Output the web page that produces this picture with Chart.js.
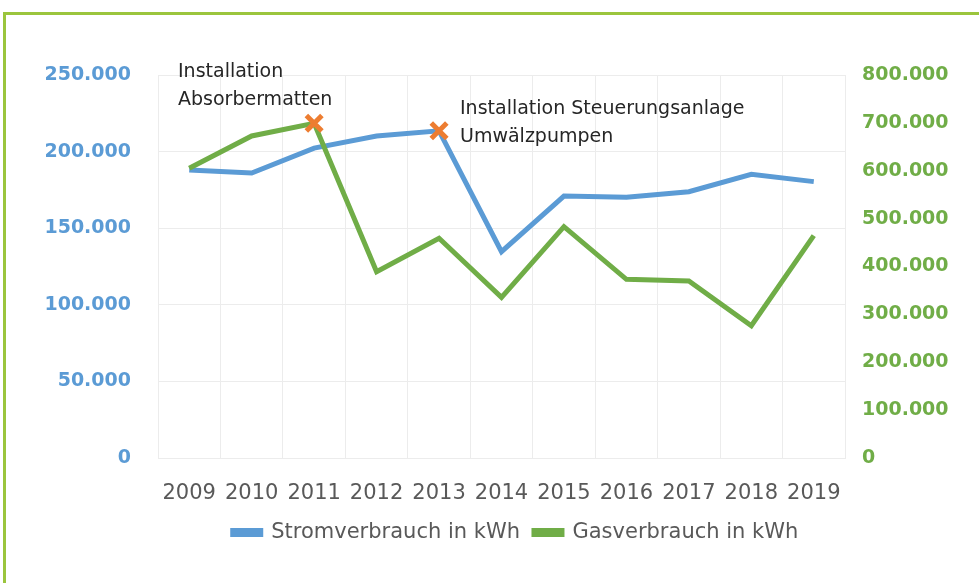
<!DOCTYPE html>
<html lang="de">
<head>
<meta charset="utf-8">
<title>Strom- und Gasverbrauch</title>
<script src="https://cdn.jsdelivr.net/npm/chart.js@4/dist/chart.umd.min.js"></script>
<style>
  html, body { margin: 0; padding: 0; background: #fff; }
  #rahmen {
    position: absolute; left: 3px; top: 12px; right: 0; bottom: 0;
    border-top: 3px solid #9bc53d; border-left: 3px solid #9bc53d;
  }
  #wrap { position: absolute; left: 0; top: 0; width: 979px; height: 583px; }
</style>
</head>
<body>
<div id="rahmen"></div>
<div id="wrap"><canvas id="verbrauchChart" width="979" height="583"></canvas></div>
<script>
// DATEN
const jahre = ["2009", "2010", "2011", "2012", "2013", "2014", "2015", "2016", "2017", "2018", "2019"];
const stromVerbrauch = [188000, 186000, 202300, 210200, 213600, 134700, 171000, 170200, 173800, 185200, 180400];
const gasVerbrauch = [605100, 672600, 699100, 389200, 458900, 335600, 483200, 373200, 369700, 276300, 464400];
const stromTicks = [0, 50000, 100000, 150000, 200000, 250000];
const gasTicks = [0, 100000, 200000, 300000, 400000, 500000, 600000, 700000, 800000];
// Markierungen (Installationen)
const markeGasJahr = "2011";
const markeStromJahr = "2013";
const anmerkungen = [
  { zeilen: ["Installation", "Absorbermatten"], x: 178, y: 72 },
  { zeilen: ["Installation Steuerungsanlage", "Umwälzpumpen"], x: 460, y: 109 },
];

const BLAU = "#5b9bd5";
const GRUEN = "#70ad47";
const ORANGE = "#ed7d31";
const GRAU = "#595959";
const FONT = "'DejaVu Sans', sans-serif";

function formatDE(v) {
  return String(v).replace(/\B(?=(\d{3})+(?!\d))/g, ".");
}

const markeGas = jahre.map((j, i) => (j === markeGasJahr ? gasVerbrauch[i] : null));
const markeStrom = jahre.map((j, i) => (j === markeStromJahr ? stromVerbrauch[i] : null));

// Text-Anmerkungen
const anmerkungPlugin = {
  id: "anmerkungen",
  afterDraw(chart) {
    const ctx = chart.ctx;
    ctx.save();
    ctx.font = "19px " + FONT;
    ctx.fillStyle = "#262626";
    ctx.textAlign = "left";
    ctx.textBaseline = "middle";
    anmerkungen.forEach((a) => {
      a.zeilen.forEach((z, k) => ctx.fillText(z, a.x, a.y + k * 28));
    });
    ctx.restore();
  },
};

// Legende etwas nach rechts (wie im Original)
const legendeVerschieben = {
  id: "legendeVerschieben",
  afterLayout(chart) {
    if (chart.legend) {
      chart.legend.left += 26;
      chart.legend.right += 26;
    }
  },
};

const ctx = document.getElementById("verbrauchChart").getContext("2d");
new Chart(ctx, {
  type: "line",
  data: {
    labels: jahre,
    datasets: [
      {
        label: "Markierung Gas",
        data: markeGas,
        yAxisID: "y1",
        showLine: false,
        pointStyle: "crossRot",
        pointRadius: 11,
        pointBorderWidth: 5,
        pointBorderColor: ORANGE,
        borderColor: ORANGE,
        order: 0,
      },
      {
        label: "Markierung Strom",
        data: markeStrom,
        yAxisID: "y",
        showLine: false,
        pointStyle: "crossRot",
        pointRadius: 11,
        pointBorderWidth: 5,
        pointBorderColor: ORANGE,
        borderColor: ORANGE,
        order: 0,
      },
      {
        label: "Stromverbrauch in kWh",
        data: stromVerbrauch,
        yAxisID: "y",
        borderColor: BLAU,
        backgroundColor: BLAU,
        borderWidth: 5,
        pointRadius: 0,
        tension: 0,
        order: 2,
      },
      {
        label: "Gasverbrauch in kWh",
        data: gasVerbrauch,
        yAxisID: "y1",
        borderColor: GRUEN,
        backgroundColor: GRUEN,
        borderWidth: 5,
        pointRadius: 0,
        tension: 0,
        order: 1,
      },
    ],
  },
  options: {
    responsive: false,
    animation: false,
    layout: { padding: { top: 75, left: 0, right: 0, bottom: 30 } },
    plugins: {
      tooltip: { enabled: false },
      legend: {
        position: "bottom",
        labels: {
          filter: (item) => !item.text.startsWith("Markierung"),
          sort: (a, b) => a.datasetIndex - b.datasetIndex,
          boxWidth: 28,
          boxHeight: 4,
          padding: 14,
          color: GRAU,
          font: { family: FONT, size: 21 },
        },
      },
    },
    scales: {
      x: {
        offset: true,
        grid: { color: "#ececec", drawTicks: false, offset: true },
        border: { display: true, color: "#ececec" },
        ticks: { color: GRAU, font: { family: FONT, size: 21 }, padding: 23, maxRotation: 0, autoSkip: false },
        afterFit: (s) => { s.height = 50; },
      },
      y: {
        position: "left",
        min: 0,
        max: 250000,
        afterBuildTicks: (s) => { s.ticks = stromTicks.map((v) => ({ value: v })); },
        grid: { color: "#ececec", drawTicks: false },
        border: { display: true, color: "#ececec" },
        ticks: { color: BLAU, font: { family: FONT, size: 19, weight: "bold" }, padding: 27, callback: (v) => formatDE(v) },
        afterFit: (s) => { s.width = 158; },
      },
      y1: {
        position: "right",
        min: 0,
        max: 800000,
        afterBuildTicks: (s) => { s.ticks = gasTicks.map((v) => ({ value: v })); },
        grid: { display: false, drawTicks: false },
        border: { display: true, color: "#ececec" },
        ticks: { color: GRUEN, font: { family: FONT, size: 19, weight: "bold" }, padding: 17, callback: (v) => formatDE(v) },
        afterFit: (s) => { s.width = 134; },
      },
    },
  },
  plugins: [anmerkungPlugin, legendeVerschieben],
});
</script>
</body>
</html>
